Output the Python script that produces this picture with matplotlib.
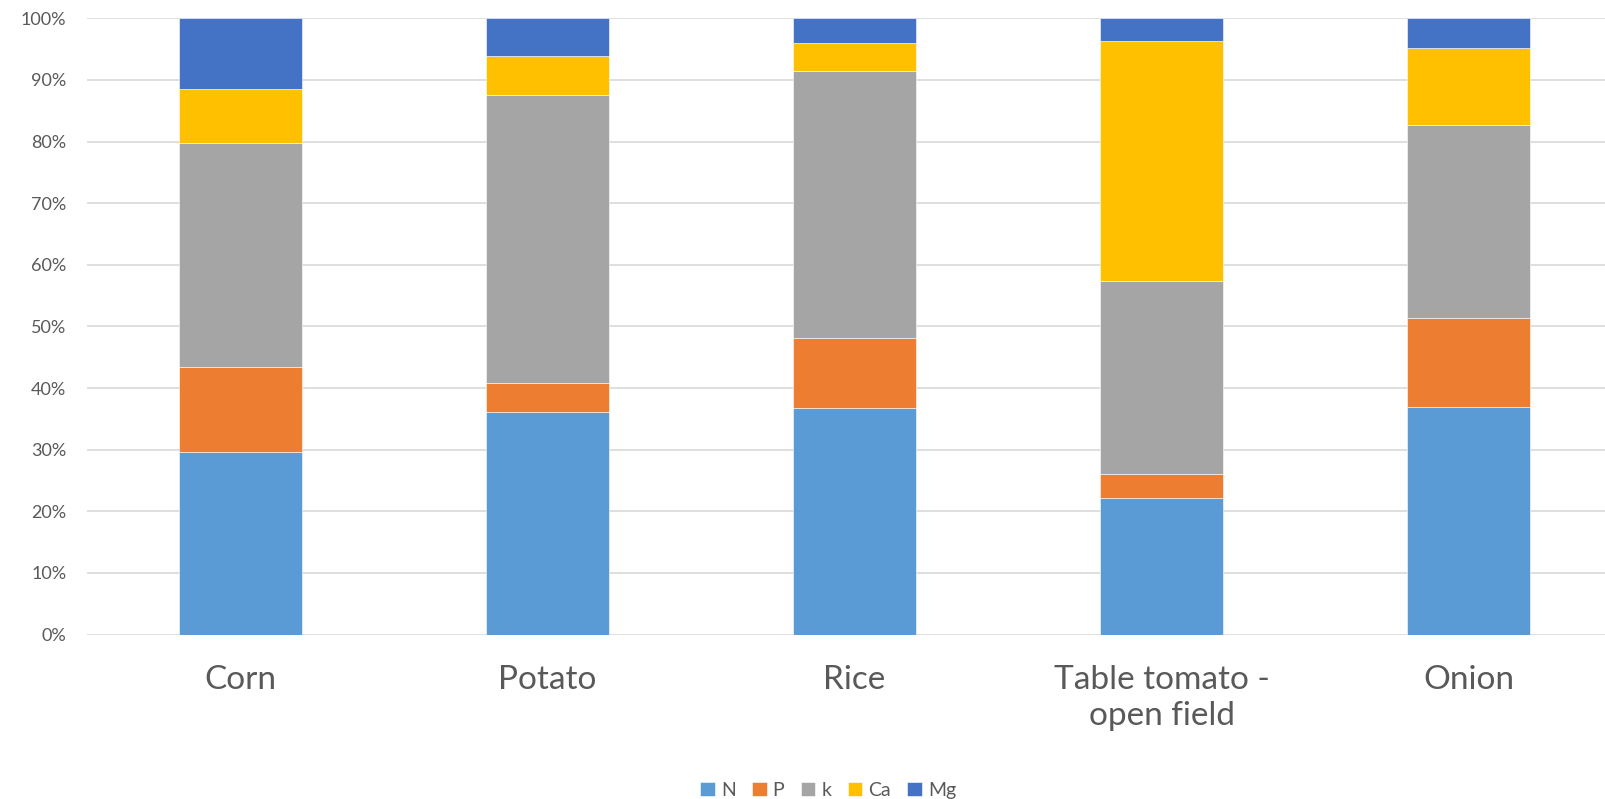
import matplotlib
matplotlib.use("Agg")
import matplotlib.pyplot as plt
import numpy as np

categories = ["Corn", "Potato", "Rice", "Table tomato -\nopen field", "Onion"]
series = ["N", "P", "k", "Ca", "Mg"]
N = [29.7, 36.2, 36.7, 22.1, 37.0]
P = [13.7, 4.7, 11.5, 4.0, 14.3]
K = [36.4, 46.6, 43.2, 31.2, 31.4]
Ca = [8.8, 6.4, 4.6, 39.0, 12.5]
Mg = [11.4, 6.1, 4.0, 3.7, 4.8]
colors = ["#5B9BD5", "#ED7D31", "#A5A5A5", "#FFC000", "#4472C4"]

plt.rcParams['font.family'] = ['Lato', 'DejaVu Sans']

fig = plt.figure(figsize=(16.05, 7.99), dpi=100)
ax = fig.add_axes([0.0542, 0.2058, 1 - 0.0542, 0.7712])

data = np.array([N, P, K, Ca, Mg])
totals = data.sum(axis=0)
pct = data / totals
x = np.arange(len(categories))
bottom = np.zeros(len(categories))
handles = []
for i, name in enumerate(series):
    b = ax.bar(x, pct[i], 0.4, bottom=bottom, color=colors[i], label=name,
               edgecolor="white", linewidth=0.4, zorder=3)
    handles.append(b)
    bottom += pct[i]

ax.set_ylim(0, 1)
ax.set_xlim(-0.5, 4.444)
ax.set_yticks(np.arange(0, 1.01, 0.1))
ax.set_yticklabels([f"{int(round(v*100))}%" for v in np.arange(0, 1.01, 0.1)])
ax.set_xticks(x)
ax.set_xticklabels(categories, fontsize=24, color="#595959", linespacing=1.25)
ax.tick_params(axis='y', length=0, pad=15, labelsize=13, labelcolor="#595959")
ax.tick_params(axis='x', length=0, pad=22)
ax.grid(axis='y', color="#D9D9D9", linewidth=1.2, zorder=0)
for s in ax.spines.values():
    s.set_visible(False)

leg = fig.legend(handles=handles, labels=series, loc="lower center", ncol=5,
                 bbox_to_anchor=(0.516, -0.022), frameon=False, fontsize=14,
                 handlelength=0.75, handleheight=0.75, handletextpad=0.3,
                 columnspacing=0.85, labelcolor="#595959")

fig.savefig("out.png", dpi=100)
